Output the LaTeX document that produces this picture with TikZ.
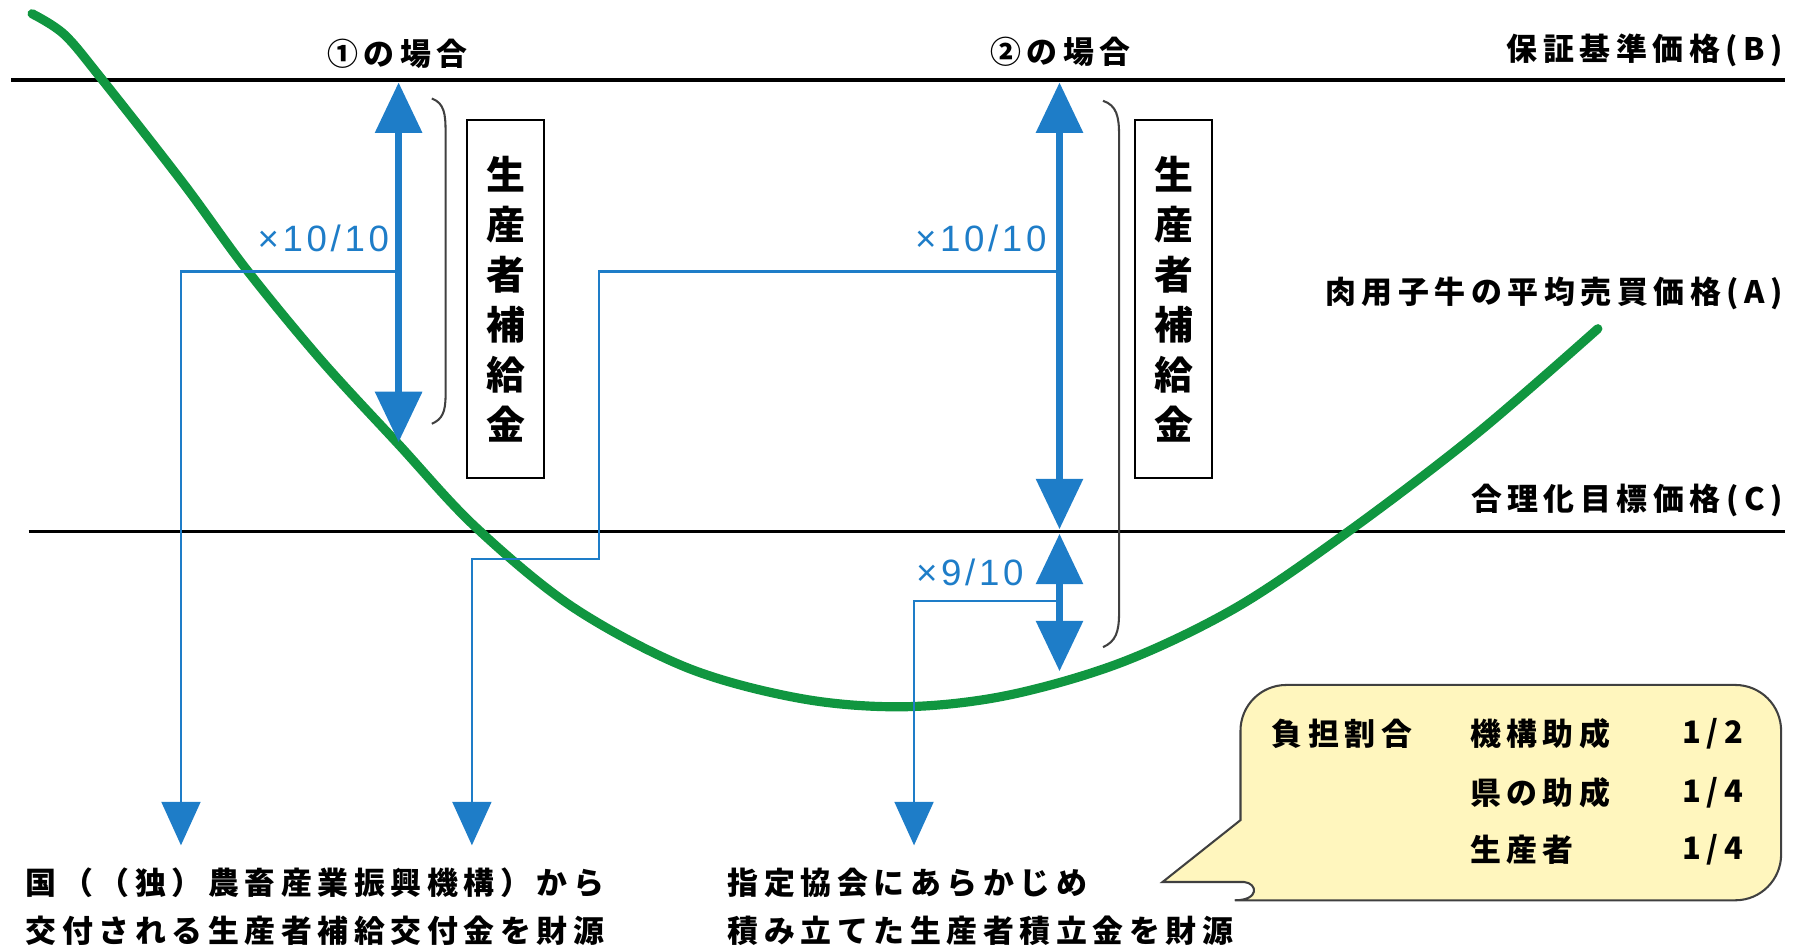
\documentclass[tikz,border=0pt]{standalone}
\usepackage{fontspec}
\setmainfont{Noto Sans CJK JP}
\newfontfamily\jp[LetterSpace=18]{Noto Sans CJK JP}
\newfontfamily\jpbox{Noto Sans CJK JP}
\newfontfamily\numfont[LetterSpace=10]{Liberation Sans}
\usetikzlibrary{arrows.meta}
\definecolor{myblue}{RGB}{30,125,200}
\definecolor{mygreen}{RGB}{16,150,64}
\definecolor{callfill}{RGB}{255,246,190}
\begin{document}
\begin{tikzpicture}[x=0.5pt,y=-0.5pt,
  lbl/.style={font={\fontsize{13.5pt}{16pt}\jp\bfseries}, inner sep=0},
  bluelbl/.style={font={\fontsize{16pt}{18pt}\numfont}, text=myblue, inner sep=0},
  thickarr/.style={myblue, line width=3pt, {Triangle[width=20pt,length=22pt]}-{Triangle[width=20pt,length=22pt]}},
  thinarr/.style={myblue, line width=1pt, -{Triangle[width=17pt,length=19pt]}},
  parenline/.style={black!75, line width=0.9pt},
  boxst/.style={draw, line width=0.9pt, minimum width=33.5pt, minimum height=156pt, inner sep=0, align=center, font={\fontsize{17pt}{21.8pt}\jpbox\bfseries}},
  callout/.style={draw=black!75, fill=callfill, line width=0.9pt}]
\useasboundingbox (0,0) rectangle (1568,830);

% price lines
\coordinate (Bl) at (10,70); \coordinate (Br) at (1558,70);
\coordinate (Cl) at (25,464); \coordinate (Cr) at (1558,464);
\draw[line width=1.75pt] (Bl) -- (Br);
\draw[line width=1.25pt] (Cl) -- (Cr);

% green curve
\draw[mygreen, line width=4pt, line cap=round] plot[smooth, tension=0.55] coordinates {
 (28,12) (56,30) (88,68) (160,160) (215,235) (280,314) (348,388) (415,460)
 (500,530) (600,583) (700,610) (790,617) (880,607) (980,578) (1080,530)
 (1180,462) (1290,378) (1395,287)};

% labels
\node[lbl, anchor=east] (lB) at (1557,44) {保証基準価格(B)};
\node[lbl, anchor=east] (lA) at (1557,256) {肉用子牛の平均売買価格(A)};
\node[lbl, anchor=east] (lC) at (1557,437) {合理化目標価格(C)};
\node[lbl] (case1) at (347,47) {①の場合};
\node[lbl] (case2) at (926,45) {②の場合};

% thick arrows
\coordinate (a1t) at (348,72); \coordinate (a1b) at (348,386);
\coordinate (a2t) at (925,72); \coordinate (a2m) at (925,462);
\coordinate (a3t) at (925,466); \coordinate (a3b) at (925,586);
\draw[thickarr] (a1t) -- (a1b);
\draw[thickarr] (a2t) -- (a2m);
\draw[thickarr] (a3t) -- (a3b);

% parentheses
\draw[parenline] (377,86) .. controls (388,90) and (389,100) .. (389,115) -- (389,345) .. controls (389,360) and (386,366) .. (377,370);
\draw[parenline] (963,88) .. controls (975,92) and (977,102) .. (977,118) -- (977,535) .. controls (977,552) and (974,560) .. (963,565);

% boxes
\node[boxst] (box1) at (441.5,261) {生\\産\\者\\補\\給\\金};
\node[boxst] (box2) at (1024.5,261) {生\\産\\者\\補\\給\\金};

% blue labels
\node[bluelbl, anchor=east] (m1) at (340,208) {×10/10};
\node[bluelbl, anchor=east] (m2) at (914,208) {×10/10};
\node[bluelbl, anchor=east] (m3) at (894,500) {×9/10};

% thin connectors
\coordinate (s1) at (348,237); \coordinate (e1) at (158,738);
\coordinate (s2) at (925,237); \coordinate (e2) at (412,738);
\coordinate (s3) at (925,525); \coordinate (e3) at (798,738);
\draw[thinarr] (s1) -| (e1);
\draw[thinarr] (s2) -- (523,237) -- (523,488) -| (e2);
\draw[thinarr] (s3) -| (e3);

% bottom texts
\node[lbl, anchor=west] (t1a) at (22,771) {国（（独）農畜産業振興機構）から};
\node[lbl, anchor=west] (t1b) at (22,813) {交付される生産者補給交付金を財源};
\node[lbl, anchor=west] (t2a) at (635,771) {指定協会にあらかじめ};
\node[lbl, anchor=west] (t2b) at (635,813) {積み立てた生産者積立金を財源};

% callout
\draw[callout] (1083,716) [rounded corners=20pt] -- (1083,598) -- (1555,598) -- (1555,786) -- (1118,786) [sharp corners] .. controls (1100,786) and (1098,771) .. (1086,770) -- (1015,770) -- cycle;
\node[lbl, anchor=west] (c0) at (1110,641) {負担割合};
\node[lbl, anchor=west] (c1) at (1283,641) {機構助成};
\node[lbl, anchor=west] (c2) at (1283,692) {県の助成};
\node[lbl, anchor=west] (c3) at (1283,742) {生産者};
\node[lbl, anchor=east] (f1) at (1522,641) {1/2};
\node[lbl, anchor=east] (f2) at (1522,692) {1/4};
\node[lbl, anchor=east] (f3) at (1522,742) {1/4};
\end{tikzpicture}
\end{document}
